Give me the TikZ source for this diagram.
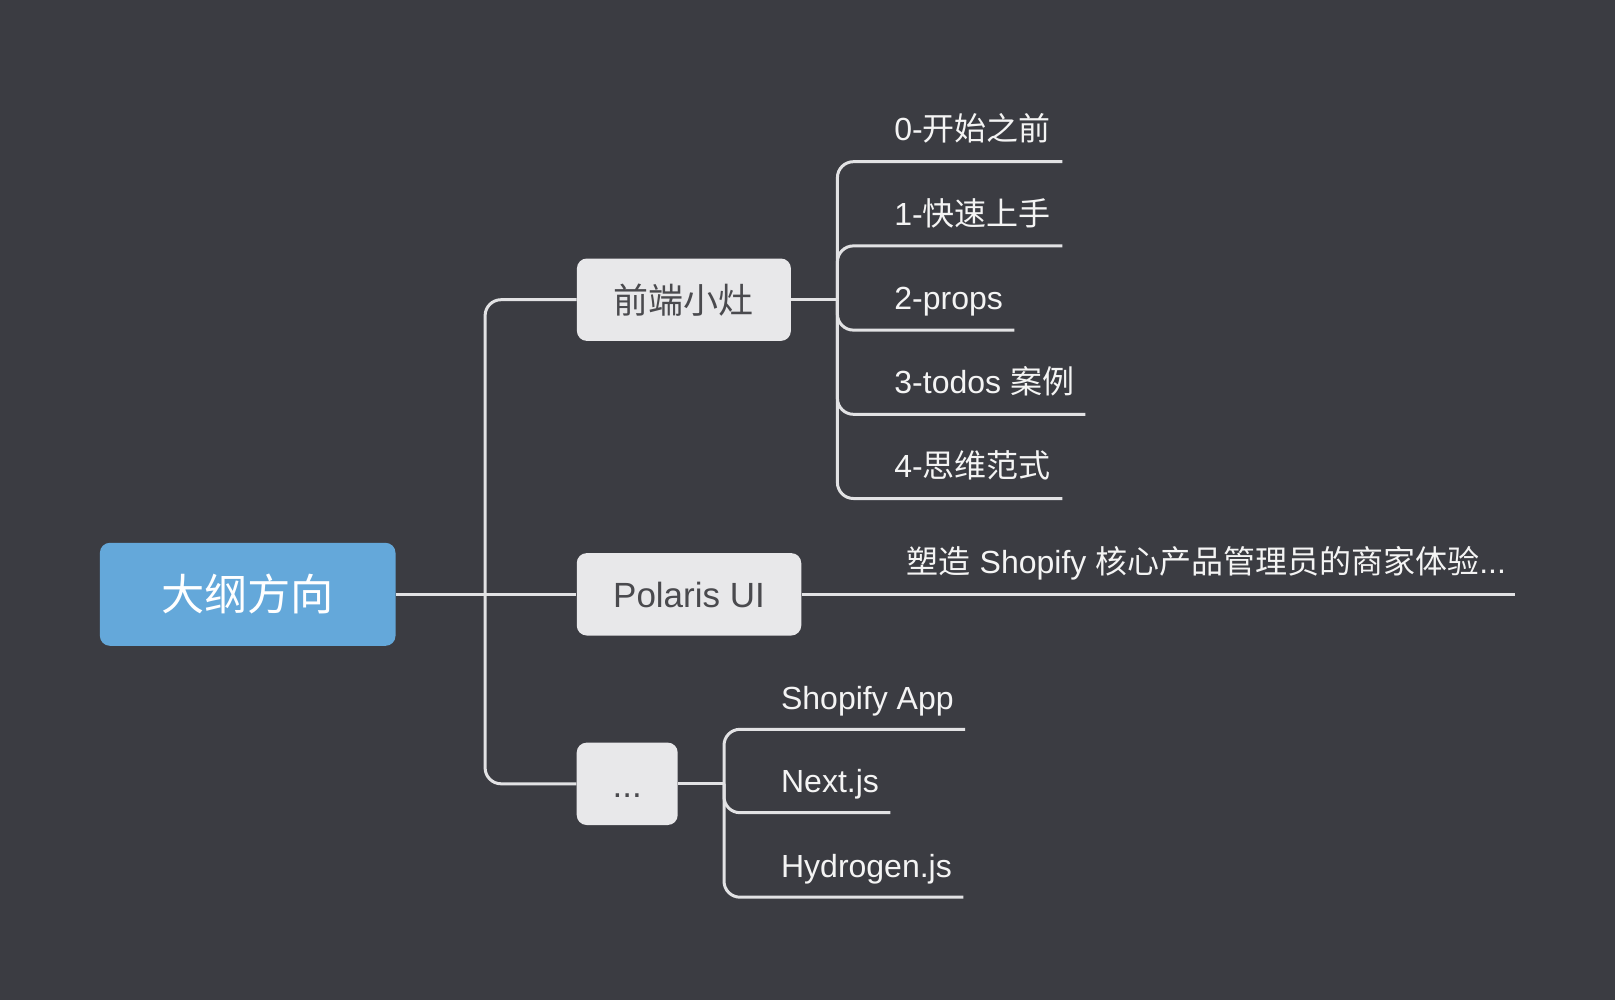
\documentclass[tikz,border=0pt]{standalone}
\usepackage{fontspec}
\setmainfont{Liberation Sans}
\newfontfamily\cjk{Noto Sans CJK SC}
\usetikzlibrary{calc,positioning}

\definecolor{bgdark}{HTML}{3B3C42}
\definecolor{rootblue}{HTML}{64A8DA}
\definecolor{boxgray}{HTML}{E8E8EA}
\definecolor{boxtext}{HTML}{4A4A4E}
\definecolor{linegray}{HTML}{E2E2E4}
\definecolor{leafwhite}{HTML}{F4F4F4}

\begin{document}
\begin{tikzpicture}[x=0.5pt,y=-0.5pt,
	link/.style={draw=linegray, line width=1.5pt, rounded corners=8pt},
	topic/.style={fill=boxgray, text=boxtext, rounded corners=5pt, inner sep=0pt,
		minimum height=41.2pt, text height=13.3pt, text depth=0pt,
		font=\fontsize{17.5}{20}\selectfont},
	leaf/.style={anchor=west, inner sep=0pt, text=leafwhite,
		text height=12.2pt, text depth=0pt, font=\fontsize{16}{19}\selectfont}]

	% background
	\fill[bgdark] (0,0) rectangle (1615,1000);
	\useasboundingbox (0,0) rectangle (1615,1000);

	% parameters
	\def\gap{84.2}
	\def\qdtop{128.7}

	% coordinates
	\coordinate (S1) at (485.1,594.3);
	\coordinate (S2) at (837.4,299.7);
	\coordinate (S3) at (724,783.8);
	\coordinate (PE) at (1515,594.3);

	% root
	\node[fill=rootblue, text=white, rounded corners=5pt, inner sep=0pt,
		minimum width=147.8pt, minimum height=51.5pt,
		font=\fontsize{21.6}{24}\selectfont] (root) at (247.7,594.3) {\cjk 大纲方向};

	% main topics
	\node[topic, minimum width=107pt] (qd) at (683.9,299.7) {\cjk 前端小灶};
	\node[topic, minimum width=112.25pt] (pol) at (689,594.3) {Polaris UI};
	\node[topic, minimum width=50.5pt] (more) at (627.2,783.8) {...};

	% first level links
	\draw[link] (root.east) -- (pol.west);
	\draw[link] (S1) |- (qd.west);
	\draw[link] (S1) |- (more.west);

	% leaves of qd
	\draw[link] (qd.east) -- (S2);
	\foreach \i/\lbl in {0/{0-{\cjk 开始之前}},1/{1-{\cjk 快速上手}},2/{2-props},
		3/{3-todos {\cjk 案例}},4/{4-{\cjk 思维范式}}} {
		\node[leaf] (qd\i) at (894,{\qdtop+\gap*\i}) {\lbl};
		\draw[link] (S2) |- ([shift={(11,33)}]qd\i.east);
	}

	% leaf of pol
	\node[leaf] (pol0) at (906.4,561.3) {{\cjk 塑造} Shopify {\cjk 核心产品管理员的商家体验}...};
	\draw[link] (pol.east) -- (PE);

	% leaves of more
	\draw[link] (more.east) -- (S3);
	\foreach \i/\lbl/\y in {0/{Shopify App}/697.3,1/{Next.js}/780.7,2/{Hydrogen.js}/865.2} {
		\node[leaf] (more\i) at (780.7,\y) {\lbl};
		\draw[link] (S3) |- ([shift={(11,32)}]more\i.east);
	}

\end{tikzpicture}
\end{document}
